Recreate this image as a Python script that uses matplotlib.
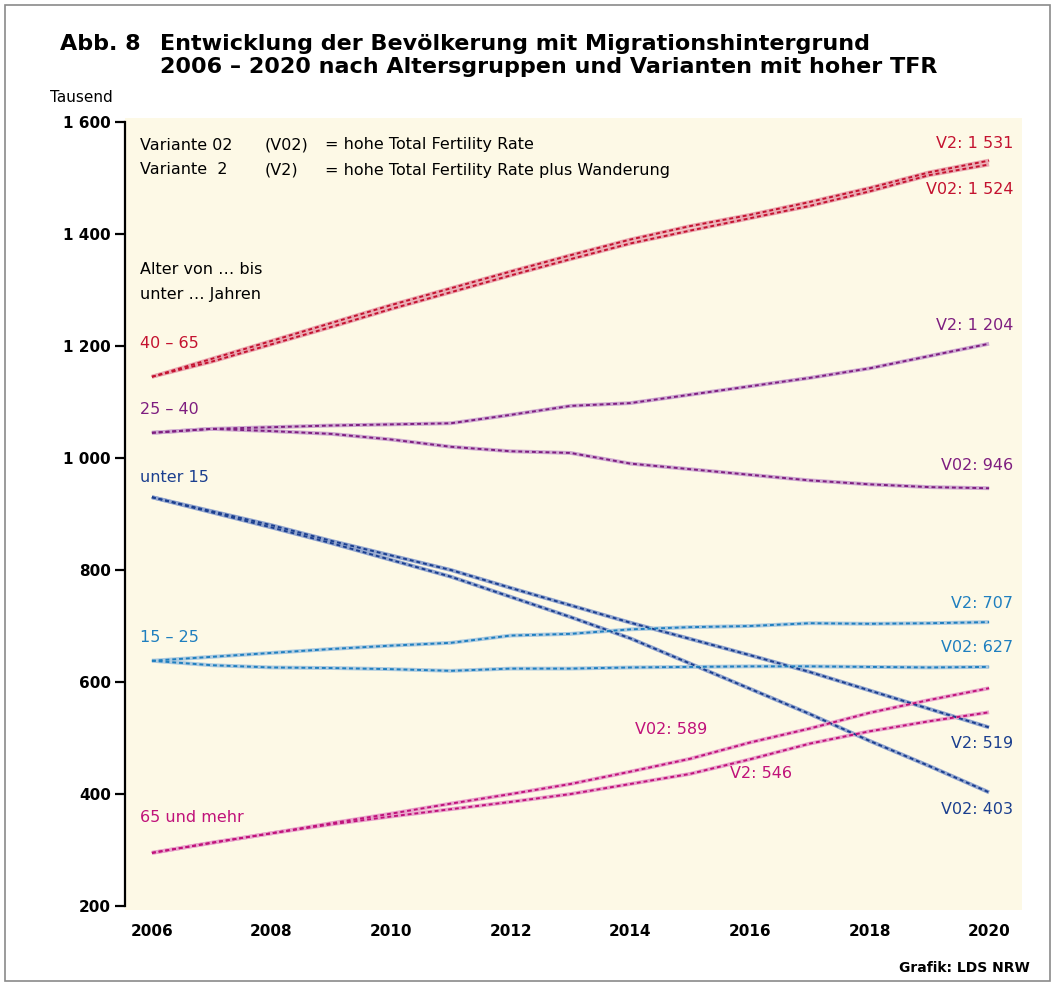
import matplotlib.pyplot as plt
from matplotlib.patches import Rectangle

years = list(range(2006, 2021))

# Tausend, 2006-2020
v2_40_65 = [1145, 1177, 1209, 1241, 1273, 1303, 1333, 1362, 1390, 1414, 1434, 1457, 1482, 1510, 1531]
v02_40_65 = [1145, 1172, 1203, 1234, 1266, 1296, 1326, 1355, 1383, 1406, 1428, 1450, 1476, 1505, 1524]
v2_25_40 = [1045, 1052, 1055, 1058, 1060, 1062, 1077, 1093, 1098, 1113, 1128, 1143, 1160, 1182, 1204]
v02_25_40 = [1045, 1052, 1048, 1043, 1033, 1020, 1012, 1009, 990, 980, 970, 960, 953, 948, 946]
v2_u15 = [930, 905, 880, 852, 826, 800, 768, 737, 706, 677, 648, 618, 585, 552, 519]
v02_u15 = [930, 903, 876, 848, 818, 788, 752, 716, 678, 633, 588, 543, 495, 450, 403]
v2_15_25 = [638, 645, 652, 659, 665, 670, 683, 686, 694, 698, 700, 705, 704, 705, 707]
v02_15_25 = [638, 630, 626, 625, 623, 620, 624, 624, 626, 627, 628, 628, 627, 626, 627]
v2_65 = [295, 313, 330, 346, 360, 373, 386, 400, 418, 436, 462, 490, 512, 530, 546]
v02_65 = [295, 313, 330, 348, 365, 383, 400, 418, 440, 463, 492, 517, 545, 568, 589]

yticks = [200, 400, 600, 800, 1000, 1200, 1400, 1600]
ytick_labels = ["200", "400", "600", "800", "1 000", "1 200", "1 400", "1 600"]
xticks = list(range(2006, 2021, 2))

RED, RED_L = "#c4122f", "#eaa9b2"
PUR, PUR_L = "#7e1e80", "#cfaad1"
DBL, DBL_L = "#1b3f8f", "#93a6cf"
LBL, LBL_L = "#1f7fbf", "#aecbe0"
MAG, MAG_L = "#c0127a", "#e9a6cc"

fig = plt.figure(figsize=(10.55, 9.86), dpi=100)
fig.patch.set_facecolor("white")

# outer frame
fig.patches.append(Rectangle((0.005, 0.005), 0.99, 0.99, transform=fig.transFigure,
                             fill=False, edgecolor="#8a8a8a", linewidth=1.2))

ax = fig.add_axes([125 / 1055, 76 / 986, 897 / 1055, 792 / 986])
ax.set_facecolor("#fdf9e6")
ax.set_xlim(2005.55, 2020.55)
ax.set_ylim(193, 1607)

def draw(vals, dark, light):
    ax.plot(years, vals, color=light, lw=2.8, solid_capstyle="butt", zorder=2)
    ax.plot(years, vals, color=dark, lw=1.4, dashes=(2, 1.5), zorder=3)

draw(v02_40_65, RED, RED_L)
draw(v2_40_65, RED, RED_L)
draw(v02_25_40, PUR, PUR_L)
draw(v2_25_40, PUR, PUR_L)
draw(v02_u15, DBL, DBL_L)
draw(v2_u15, DBL, DBL_L)
draw(v02_15_25, LBL, LBL_L)
draw(v2_15_25, LBL, LBL_L)
draw(v02_65, MAG, MAG_L)
draw(v2_65, MAG, MAG_L)

for s in ["top", "right", "bottom"]:
    ax.spines[s].set_visible(False)
ax.spines["left"].set_linewidth(1.6)
ax.spines["left"].set_bounds(200, 1600)

ax.set_yticks(yticks)
ax.set_yticklabels(ytick_labels, fontsize=11, fontweight="bold")
ax.tick_params(axis="y", length=7, width=1.6, pad=3)
ax.set_xticks(xticks)
ax.set_xticklabels([str(x) for x in xticks], fontsize=11, fontweight="bold")
ax.tick_params(axis="x", length=0, pad=10)

# texts placed in pixel coordinates converted to figure fraction
def ftext(x, y, s, **kw):
    fig.text(x / 1055, 1 - y / 986, s, va="center", **kw)

ftext(60, 44, "Abb. 8", fontsize=16, fontweight="bold")
ftext(160, 44, "Entwicklung der Bevölkerung mit Migrationshintergrund", fontsize=16, fontweight="bold")
ftext(160, 67, "2006 – 2020 nach Altersgruppen und Varianten mit hoher TFR", fontsize=16, fontweight="bold")
ftext(50, 98, "Tausend", fontsize=11)
ftext(1030, 968, "Grafik: LDS NRW", fontsize=10, fontweight="bold", ha="right")

ftext(140, 145, "Variante 02", fontsize=11.5)
ftext(265, 145, "(V02)", fontsize=11.5)
ftext(325, 145, "= hohe Total Fertility Rate", fontsize=11.5)
ftext(140, 170, "Variante  2", fontsize=11.5)
ftext(265, 170, "(V2)", fontsize=11.5)
ftext(325, 170, "= hohe Total Fertility Rate plus Wanderung", fontsize=11.5)

ftext(140, 270, "Alter von … bis", fontsize=11.5)
ftext(140, 295, "unter … Jahren", fontsize=11.5)

ftext(140, 343, "40 – 65", fontsize=11.5, color=RED)
ftext(140, 410, "25 – 40", fontsize=11.5, color=PUR)
ftext(140, 478, "unter 15", fontsize=11.5, color=DBL)
ftext(140, 638, "15 – 25", fontsize=11.5, color=LBL)
ftext(140, 817, "65 und mehr", fontsize=11.5, color=MAG)

ftext(1013, 143, "V2: 1 531", fontsize=11.5, color=RED, ha="right")
ftext(1013, 189, "V02: 1 524", fontsize=11.5, color=RED, ha="right")
ftext(1013, 325, "V2: 1 204", fontsize=11.5, color=PUR, ha="right")
ftext(1013, 466, "V02: 946", fontsize=11.5, color=PUR, ha="right")
ftext(1013, 603, "V2: 707", fontsize=11.5, color=LBL, ha="right")
ftext(1013, 648, "V02: 627", fontsize=11.5, color=LBL, ha="right")
ftext(1013, 743, "V2: 519", fontsize=11.5, color=DBL, ha="right")
ftext(1013, 810, "V02: 403", fontsize=11.5, color=DBL, ha="right")
ftext(635, 730, "V02: 589", fontsize=11.5, color=MAG)
ftext(730, 773, "V2: 546", fontsize=11.5, color=MAG)

fig.savefig("out.png", dpi=100)
